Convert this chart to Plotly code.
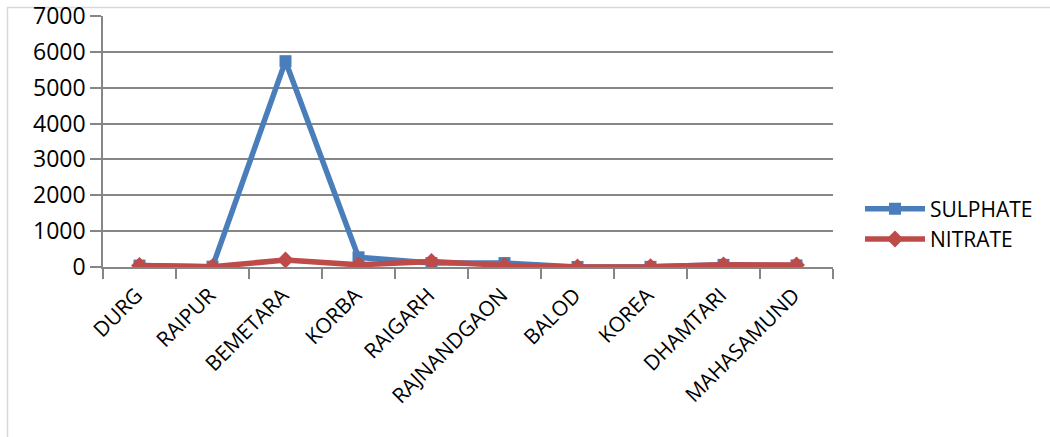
import plotly.graph_objects as go

districts = ["DURG", "RAIPUR", "BEMETARA", "KORBA", "RAIGARH", "RAJNANDGAON",
             "BALOD", "KOREA", "DHAMTARI", "MAHASAMUND"]
sulphate = [40, 10, 5740, 270, 110, 110, 0, 5, 60, 45]
nitrate = [40, 10, 195, 60, 155, 45, 0, 5, 60, 55]
y_ticks = [0, 1000, 2000, 3000, 4000, 5000, 6000, 7000]

W, H = 1050, 437
L, R, T, B = 103, 833, 16, 267

fig = go.Figure()
fig.add_trace(go.Scatter(
    x=districts, y=sulphate, name="SULPHATE", mode="lines+markers",
    line=dict(color="#4a7ebb", width=5.5),
    marker=dict(symbol="square", size=12, color="#4a7ebb"),
))
fig.add_trace(go.Scatter(
    x=districts, y=nitrate, name="NITRATE", mode="lines+markers",
    line=dict(color="#be4b48", width=5.5),
    marker=dict(symbol="diamond", size=13, color="#be4b48"),
))

pw, ph = R - L, B - T
fig.update_layout(
    width=W, height=H,
    margin=dict(l=L, r=W - R, t=T, b=H - B, autoexpand=False),
    paper_bgcolor="white", plot_bgcolor="white",
    font=dict(family="Open Sans, Liberation Sans, sans-serif", color="#000000"),
    showlegend=True,
    legend=dict(
        x=(860 - L) / pw, y=(B - 224) / ph, xanchor="left", yanchor="middle",
        font=dict(size=21), itemwidth=60, bgcolor="rgba(0,0,0,0)",
    ),
    xaxis=dict(
        type="category", range=[-0.5, len(districts) - 0.5], automargin=False,
        tickson="boundaries", ticks="outside", ticklen=10, tickcolor="#868686",
        tickwidth=1.5, showline=True, linecolor="#868686", linewidth=1.5,
        showgrid=False, tickangle=-45, tickfont=dict(size=21),
        ticklabelstandoff=6, ticklabelshift=-3, ticklabeloverflow="allow",
    ),
    yaxis=dict(
        range=[0, 7000], tickvals=y_ticks, ticks="outside", ticklen=11,
        automargin=False, ticklabeloverflow="allow",
        tickcolor="#868686", tickwidth=1.5, showline=True, linecolor="#868686",
        linewidth=1.5, showgrid=True, gridcolor="#868686", gridwidth=1.5,
        zeroline=False, tickfont=dict(size=23),
    ),
    shapes=[dict(
        type="rect", xref="paper", yref="paper",
        x0=(7.5 - L) / pw, x1=(W + 20 - L) / pw,
        y0=(B - (H + 20)) / ph, y1=(B - 7.5) / ph,
        line=dict(color="#d9d9d9", width=1.5), fillcolor="rgba(0,0,0,0)",
        layer="below",
    )],
)

fig.write_html("out.html")
